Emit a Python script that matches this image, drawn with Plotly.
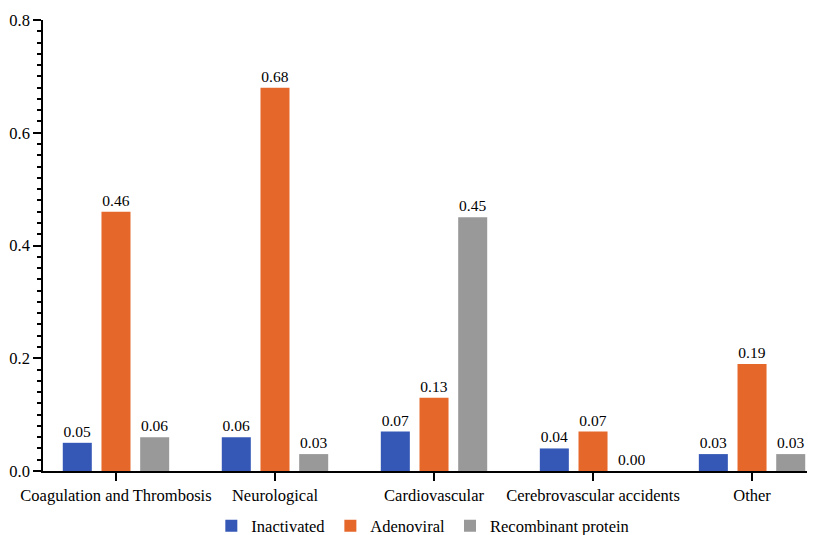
import plotly.graph_objects as go

categories = ["Coagulation and Thrombosis", "Neurological", "Cardiovascular",
              "Cerebrovascular accidents", "Other"]
inactivated = [0.05, 0.06, 0.07, 0.04, 0.03]
adenoviral = [0.46, 0.68, 0.13, 0.07, 0.19]
recombinant = [0.06, 0.03, 0.45, 0.00, 0.03]

series = [
    ("Inactivated", inactivated, "#3558b7"),
    ("Adenoviral", adenoviral, "#e6672a"),
    ("Recombinant protein", recombinant, "#999999"),
]

FONT = "Liberation Serif, Times New Roman, serif"

fig = go.Figure()
for name, vals, col in series:
    fig.add_trace(go.Bar(
        x=categories, y=vals, name=name,
        marker=dict(color=col, line=dict(width=0)),
        texttemplate="%{y:.2f}", textposition="outside",
        outsidetextfont=dict(family=FONT, size=15.5, color="#000000"),
        cliponaxis=False,
    ))

fig.update_layout(
    width=807, height=527,
    margin=dict(l=35, r=0, t=12, b=64, autoexpand=False),
    paper_bgcolor="white", plot_bgcolor="white",
    font=dict(family=FONT, size=16.5, color="#000000"),
    barmode="group", bargap=0.27, bargroupgap=0.25,
    showlegend=True,
    legend=dict(orientation="h", x=0.492, xanchor="center",
                yref="container", y=0.017, yanchor="middle",
                font=dict(family=FONT, size=16.5), itemwidth=30, tracegroupgap=0,
                itemsizing="constant"),
)
fig.update_xaxes(
    range=[-0.459, 4.396], showline=True, linecolor="#000000", linewidth=1.5,
    ticks="outside", ticklen=8, tickcolor="#000000", tickwidth=1.5,
    showgrid=False, zeroline=False, automargin=False,
    tickfont=dict(family=FONT, size=16.5),
)
fig.update_yaxes(
    range=[0, 0.8], dtick=0.2, tickformat=".1f",
    showline=True, linecolor="#000000", linewidth=1.5,
    ticks="outside", ticklen=8, tickcolor="#000000", tickwidth=1.5,
    minor=dict(dtick=0.02, ticks="outside", ticklen=4, tickcolor="#000000", tickwidth=1.5, showgrid=False),
    showgrid=False, zeroline=False, automargin=False,
    tickfont=dict(family=FONT, size=16.5),
)

fig.write_html("out.html")
